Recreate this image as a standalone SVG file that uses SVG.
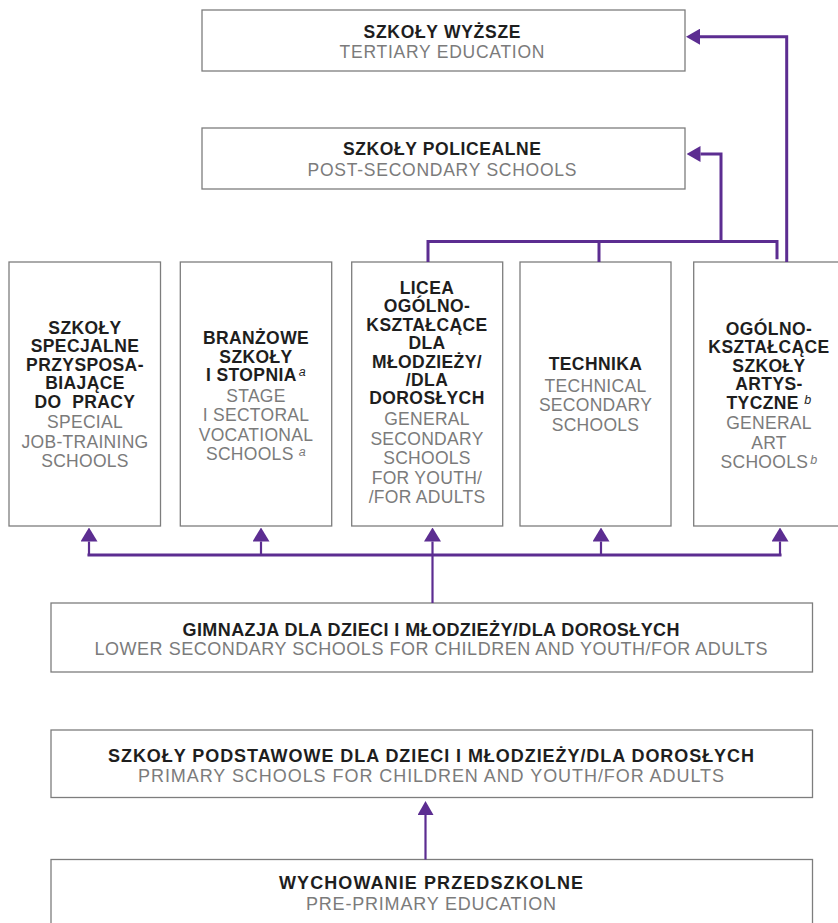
<svg xmlns="http://www.w3.org/2000/svg" width="838" height="923" viewBox="0 0 838 923">
<defs>
<style>
.box{fill:#ffffff;stroke:#7d7d7d;stroke-width:1.3}
text{font-family:"Liberation Sans",Arial,sans-serif;text-anchor:middle}
.b{font-weight:bold;fill:#1e1e1e;font-size:17.5px;letter-spacing:0.4px}
.g{fill:#7b7b7b;font-size:17.5px;letter-spacing:0.3px}
.bt{font-weight:bold;fill:#1e1e1e;font-size:17.5px}
.gt{fill:#7b7b7b;font-size:17.5px}
.bw{font-weight:bold;fill:#1e1e1e;font-size:18px}
.gw{fill:#7b7b7b;font-size:18px}
.sup{font-style:italic;font-weight:normal;font-size:12.5px}
.con{fill:none;stroke:#5c2d91;stroke-width:3}
.thin{stroke-width:2.2}
</style>
<marker id="ah" viewBox="0 0 14 16" refX="0" refY="8" markerWidth="14" markerHeight="16" markerUnits="userSpaceOnUse" orient="auto">
<path d="M0,0 L14,8 L0,16 z" fill="#5c2d91"/>
</marker>
<marker id="ahs" viewBox="0 0 14 17" refX="0" refY="8.5" markerWidth="14" markerHeight="17" markerUnits="userSpaceOnUse" orient="auto">
<path d="M0,0 L14,8.5 L0,17 z" fill="#5c2d91"/>
</marker>
</defs>

<g id="tertiary">
<rect class="box" x="202" y="10" width="483" height="61"/>
<text class="bt" x="442" y="37.5" textLength="157" lengthAdjust="spacing">SZKOŁY WYŻSZE</text>
<text class="gt" x="442" y="57.7" textLength="205" lengthAdjust="spacing">TERTIARY EDUCATION</text>
</g>

<g id="post-secondary">
<rect class="box" x="202" y="128" width="483" height="61"/>
<text class="bt" x="442" y="155" textLength="198" lengthAdjust="spacing">SZKOŁY POLICEALNE</text>
<text class="gt" x="442" y="176" textLength="269" lengthAdjust="spacing">POST-SECONDARY SCHOOLS</text>
</g>

<g id="special">
<rect class="box" x="9" y="262" width="151.5" height="264"/>
<text class="b" x="85" y="334">SZKOŁY</text>
<text class="b" x="85" y="352.4">SPECJALNE</text>
<text class="b" x="85" y="370.8">PRZYSPOSA-</text>
<text class="b" x="85" y="389.2">BIAJĄCE</text>
<text class="b" x="85" y="407.6" xml:space="preserve">DO  PRACY</text>
<text class="g" x="85" y="428.3">SPECIAL</text>
<text class="g" x="85" y="447.8">JOB-TRAINING</text>
<text class="g" x="85" y="467.3">SCHOOLS</text>
</g>

<g id="vocational">
<rect class="box" x="180.3" y="262" width="151.4" height="264"/>
<text class="b" x="256" y="344.3">BRANŻOWE</text>
<text class="b" x="256" y="362.7">SZKOŁY</text>
<text class="b" x="256" y="381.1">I STOPNIA<tspan class="sup" dx="2" dy="-5">a</tspan></text>
<text class="g" x="256" y="401.7">STAGE</text>
<text class="g" x="256" y="421.2">I SECTORAL</text>
<text class="g" x="256" y="440.7">VOCATIONAL</text>
<text class="g" x="256" y="460.2">SCHOOLS <tspan class="sup" dy="-4">a</tspan></text>
</g>

<g id="general-secondary">
<rect class="box" x="351.7" y="262" width="151" height="264"/>
<text class="b" x="427" y="294">LICEA</text>
<text class="b" x="427" y="312.4">OGÓLNO-</text>
<text class="b" x="427" y="330.8">KSZTAŁCĄCE</text>
<text class="b" x="427" y="349.2">DLA</text>
<text class="b" x="427" y="367.6">MŁODZIEŻY/</text>
<text class="b" x="427" y="386">/DLA</text>
<text class="b" x="427" y="404.4">DOROSŁYCH</text>
<text class="g" x="427" y="425">GENERAL</text>
<text class="g" x="427" y="444.5">SECONDARY</text>
<text class="g" x="427" y="464">SCHOOLS</text>
<text class="g" x="427" y="483.5">FOR YOUTH/</text>
<text class="g" x="427" y="503">/FOR ADULTS</text>
</g>

<g id="technical">
<rect class="box" x="520" y="262" width="151" height="264"/>
<text class="b" x="595.5" y="370">TECHNIKA</text>
<text class="g" x="595.5" y="391.5">TECHNICAL</text>
<text class="g" x="595.5" y="411">SECONDARY</text>
<text class="g" x="595.5" y="430.5">SCHOOLS</text>
</g>

<g id="art">
<rect class="box" x="693.7" y="262" width="151.3" height="264"/>
<text class="b" x="769" y="335">OGÓLNO-</text>
<text class="b" x="769" y="353.4">KSZTAŁCĄCE</text>
<text class="b" x="769" y="371.8">SZKOŁY</text>
<text class="b" x="769" y="390.2">ARTYS-</text>
<text class="b" x="769" y="408.6">TYCZNE <tspan class="sup" dy="-5">b</tspan></text>
<text class="g" x="769" y="429.3">GENERAL</text>
<text class="g" x="769" y="448.8">ART</text>
<text class="g" x="769" y="468.3">SCHOOLS<tspan class="sup" dx="2" dy="-4">b</tspan></text>
</g>

<g id="lower-secondary">
<rect class="box" x="51" y="603" width="761.5" height="69"/>
<text class="bw" x="431" y="636" textLength="497" lengthAdjust="spacing">GIMNAZJA DLA DZIECI I MŁODZIEŻY/DLA DOROSŁYCH</text>
<text class="gw" x="431" y="654.5" textLength="673" lengthAdjust="spacing">LOWER SECONDARY SCHOOLS FOR CHILDREN AND YOUTH/FOR ADULTS</text>
</g>

<g id="primary">
<rect class="box" x="51" y="730" width="761.5" height="67.5"/>
<text class="bw" x="431" y="762" textLength="646" lengthAdjust="spacing">SZKOŁY PODSTAWOWE DLA DZIECI I MŁODZIEŻY/DLA DOROSŁYCH</text>
<text class="gw" x="431" y="781.5" textLength="586" lengthAdjust="spacing">PRIMARY SCHOOLS FOR CHILDREN AND YOUTH/FOR ADULTS</text>
</g>

<g id="pre-primary">
<rect class="box" x="51" y="859.5" width="761.5" height="80"/>
<text class="bw" x="431" y="889" textLength="304" lengthAdjust="spacing">WYCHOWANIE PRZEDSZKOLNE</text>
<text class="gw" x="431" y="909.5" textLength="250" lengthAdjust="spacing">PRE-PRIMARY EDUCATION</text>
</g>

<g id="connectors">
<path class="con" d="M786.7,262 V36.7 H700" marker-end="url(#ah)"/>
<path class="con" d="M721,241.5 V154 H700.5" marker-end="url(#ah)"/>
<path class="con" d="M428,262 V241.5 H777 V259.3"/>
<path class="con" d="M599,241.5 V262"/>
<path class="con" d="M87.5,555 H781.5"/>
<path class="con thin" d="M89,556 V541.5" marker-end="url(#ahs)"/>
<path class="con thin" d="M261,556 V541.5" marker-end="url(#ahs)"/>
<path class="con thin" d="M432.5,603 V541.5" marker-end="url(#ahs)"/>
<path class="con thin" d="M601,556 V541.5" marker-end="url(#ahs)"/>
<path class="con thin" d="M780,556 V541.5" marker-end="url(#ahs)"/>
<path class="con thin" d="M425.5,859.5 V815" marker-end="url(#ah)"/>
</g>
</svg>
